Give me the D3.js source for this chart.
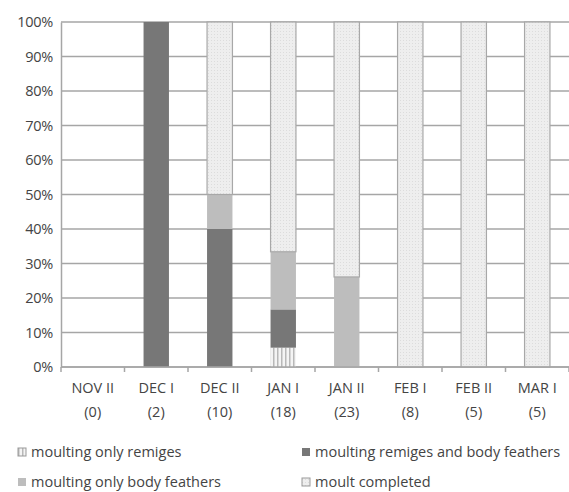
<!DOCTYPE html>
<html>
<head>
<meta charset="utf-8">
<script src="https://cdn.jsdelivr.net/npm/d3@7"></script>
<style>
  body { margin: 0; background: #fff; }
  text { font-family: "Open Sans", sans-serif; fill: #444; }
</style>
</head>
<body>
<div id="chart"></div>
<script>
const periods = ['NOV II', 'DEC I', 'DEC II', 'JAN I', 'JAN II', 'FEB I', 'FEB II', 'MAR I'];
const sampleSizes = [0, 2, 10, 18, 23, 8, 5, 5];
// percentages per period
const remigesOnly = [0, 0, 0, 5.6, 0, 0, 0, 0];
const remigesAndBody = [0, 100, 40, 11.1, 0, 0, 0, 0];
const bodyOnly = [0, 0, 10, 16.7, 26.1, 0, 0, 0];
const moultCompleted = [0, 0, 50, 66.6, 73.9, 100, 100, 100];
const seriesNames = ['moulting only remiges', 'moulting remiges and body feathers', 'moulting only body feathers', 'moult completed'];
const yTicks = [0, 10, 20, 30, 40, 50, 60, 70, 80, 90, 100];

const width = 569, height = 492;
const margin = {top: 22, right: 0, bottom: 125, left: 61};
const plotW = width - margin.left - margin.right;
const plotH = height - margin.top - margin.bottom;

const svg = d3.select('#chart').append('svg')
    .attr('width', width)
    .attr('height', height);

// patterns
const defs = svg.append('defs');
const stripes = defs.append('pattern')
    .attr('id', 'stripes')
    .attr('patternUnits', 'userSpaceOnUse')
    .attr('width', 4).attr('height', 4);
stripes.append('rect').attr('width', 4).attr('height', 4).attr('fill', '#f4f4f4');
stripes.append('rect').attr('width', 1.5).attr('height', 4).attr('fill', '#b8b8b8');

const dots = defs.append('pattern')
    .attr('id', 'dots')
    .attr('patternUnits', 'userSpaceOnUse')
    .attr('width', 3).attr('height', 3);
dots.append('rect').attr('width', 3).attr('height', 3).attr('fill', '#eeeeee');
dots.append('rect').attr('width', 1).attr('height', 1).attr('fill', '#dcdcdc');

const fills = ['url(#stripes)', '#777777', '#bdbdbd', 'url(#dots)'];
const strokes = ['none', 'none', 'none', '#a8a8a8'];

const g = svg.append('g')
    .attr('transform', `translate(${margin.left},${margin.top})`);

const x = d3.scaleBand()
    .domain(periods)
    .range([0, plotW])
    .paddingInner(0.6)
    .paddingOuter(0.3);

const y = d3.scaleLinear()
    .domain([0, 100])
    .range([plotH, 0]);

// gridlines
g.append('g')
    .selectAll('line')
    .data(yTicks)
    .enter()
    .append('line')
    .attr('x1', 0)
    .attr('x2', plotW)
    .attr('y1', d => y(d))
    .attr('y2', d => y(d))
    .attr('stroke', '#a6a6a6')
    .attr('stroke-width', 1.5);

// stacked bars
const table = periods.map((p, i) => ({
    period: p,
    s0: remigesOnly[i],
    s1: remigesAndBody[i],
    s2: bodyOnly[i],
    s3: moultCompleted[i]
}));
const stack = d3.stack().keys(['s0', 's1', 's2', 's3'])(table);

stack.forEach((layer, k) => {
    g.append('g')
        .selectAll('rect')
        .data(layer.filter(d => d[1] - d[0] > 0))
        .enter()
        .append('rect')
        .attr('x', d => x(d.data.period))
        .attr('width', x.bandwidth())
        .attr('y', d => y(d[1]))
        .attr('height', d => y(d[0]) - y(d[1]))
        .attr('fill', fills[k])
        .attr('stroke', strokes[k])
        .attr('stroke-width', 1.2);
});

// y axis
const yAxis = g.append('g')
    .call(d3.axisLeft(y).tickValues(yTicks).tickSize(0).tickPadding(8).tickFormat(d => d + '%'));
yAxis.select('.domain').attr('stroke', '#a6a6a6').attr('stroke-width', 1.5);
yAxis.selectAll('text')
    .style('font-size', '14.5px')
    .style('letter-spacing', '-0.3px')
    .attr('fill', '#444');

// x axis
const bounds = d3.range(periods.length + 1).map(i => i * plotW / periods.length);
const xAxisG = g.append('g')
    .attr('transform', `translate(0,${plotH})`);
xAxisG.append('line')
    .attr('x1', 0).attr('x2', plotW)
    .attr('stroke', '#a6a6a6').attr('stroke-width', 1.5);
xAxisG.selectAll('.tick-mark')
    .data(bounds)
    .enter()
    .append('line')
    .attr('x1', d => d).attr('x2', d => d)
    .attr('y1', 0).attr('y2', 5)
    .attr('stroke', '#a6a6a6').attr('stroke-width', 1.5);

const labels = xAxisG.selectAll('.xlabel')
    .data(periods)
    .enter()
    .append('text')
    .attr('text-anchor', 'middle')
    .style('font-size', '14.5px')
    .attr('transform', d => `translate(${x(d) + x.bandwidth() / 2},0)`);
labels.append('tspan').attr('x', 0).attr('y', 26).text(d => d);
labels.append('tspan').attr('x', 0).attr('y', 50).text((d, i) => '(' + sampleSizes[i] + ')');

// legend
const legendPos = [
    {x: 18, y: 452},
    {x: 302, y: 452},
    {x: 18, y: 482},
    {x: 302, y: 482}
];
const legend = svg.append('g');
seriesNames.forEach((name, i) => {
    const item = legend.append('g')
        .attr('transform', `translate(${legendPos[i].x},${legendPos[i].y})`);
    item.append('rect')
        .attr('x', 0).attr('y', -4)
        .attr('width', 8).attr('height', 8)
        .attr('fill', fills[i])
        .attr('stroke', i === 1 || i === 2 ? 'none' : '#999')
        .attr('stroke-width', 1);
    item.append('text')
        .attr('x', 13)
        .attr('y', 0)
        .attr('dy', '0.35em')
        .style('font-size', '14.5px')
        .text(name);
});
</script>
</body>
</html>
